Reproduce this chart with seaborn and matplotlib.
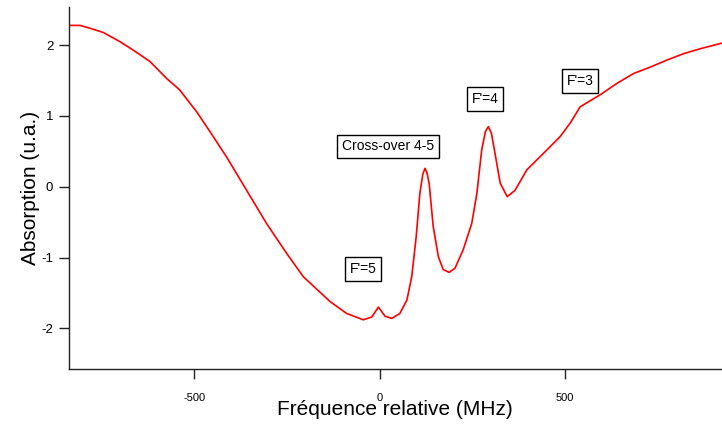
import matplotlib
matplotlib.use("Agg")
import matplotlib.pyplot as plt
import seaborn as sns
import pandas as pd

freq = [-840, -832, -809, -782, -746, -701, -665, -620, -575, -540, -494, -458,
        -413, -359, -305, -251, -206, -134, -89, -44, -21, -8, -3, 4, 15, 33, 55,
        74, 87, 99, 109, 117, 123, 128, 134, 145, 159, 172, 188, 204, 226, 249,
        263, 276, 286, 294, 302, 312, 326, 345, 366, 398, 452, 488, 515, 542, 596,
        641, 686, 731, 776, 821, 866, 925]
absorb = [2.28, 2.28, 2.28, 2.24, 2.18, 2.05, 1.93, 1.77, 1.53, 1.37, 1.06, 0.78,
          0.42, -0.05, -0.52, -0.94, -1.27, -1.62, -1.79, -1.88, -1.84, -1.74, -1.70,
          -1.75, -1.83, -1.86, -1.79, -1.60, -1.27, -0.71, -0.09, 0.18, 0.26, 0.20,
          0.05, -0.56, -0.99, -1.17, -1.21, -1.15, -0.89, -0.52, -0.09, 0.52, 0.78,
          0.85, 0.76, 0.47, 0.05, -0.14, -0.05, 0.24, 0.52, 0.71, 0.90, 1.13, 1.30,
          1.46, 1.60, 1.69, 1.79, 1.88, 1.95, 2.03]

labels = ["Cross-over 4-5", "F'=5", "F'=4", "F'=3"]
label_x = [23, -45, 285, 542]
label_y = [0.57, -1.16, 1.24, 1.49]

xticks = [-500, 0, 500]
yticks = [-2, -1, 0, 1, 2]

sns.set_style("ticks")
plt.rcParams['font.family'] = ['Liberation Sans', 'DejaVu Sans']
plt.rcParams['axes.unicode_minus'] = False

fig = plt.figure(figsize=(7.22, 4.24), dpi=100)
ax = fig.add_axes([68.5/722, 55/424, 1 - 68.5/722, (369-7)/424])

df = pd.DataFrame({"freq": freq, "abs": absorb})
sns.lineplot(data=df, x="freq", y="abs", ax=ax, color="red", linewidth=1.2)
for ln in ax.get_lines():
    ln.set_solid_joinstyle('round')

ax.set_xlim(-840, 925)
ax.set_ylim(-2.575, 2.54)
ax.set_xticks(xticks)
ax.set_yticks(yticks)
ax.tick_params(axis='x', direction='out', length=7, width=1, labelsize=8, pad=10,
               colors='#222222', labelcolor='black')
ax.tick_params(axis='y', direction='out', length=7, width=1, labelsize=9.5, pad=4,
               colors='#222222', labelcolor='black')
ax.spines['top'].set_visible(False)
ax.spines['right'].set_visible(False)
for s in ['left', 'bottom']:
    ax.spines[s].set_linewidth(1)
    ax.spines[s].set_color('#222222')

ax.set_xlabel("Fréquence relative (MHz)", fontsize=15, labelpad=-2, color='black')
ax.set_ylabel("Absorption (u.a.)", fontsize=15, labelpad=1, color='black')

for t, x, y in zip(labels, label_x, label_y):
    ax.text(x, y, t, fontsize=10, ha='center', va='center', color='black',
            bbox=dict(boxstyle='square,pad=0.35', facecolor='white', edgecolor='black', linewidth=1))

fig.savefig("out.png", dpi=100)
